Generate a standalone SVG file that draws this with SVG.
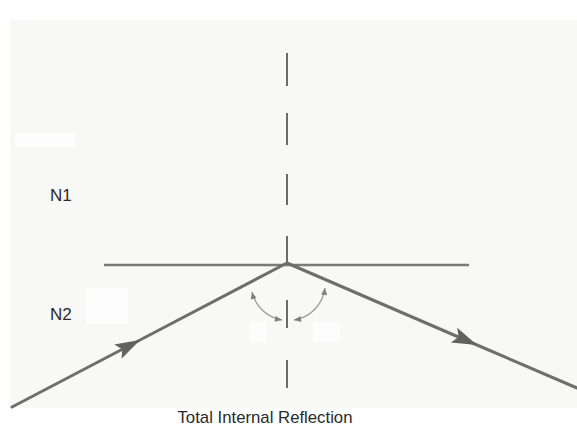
<svg xmlns="http://www.w3.org/2000/svg" width="577" height="437" viewBox="0 0 577 437">
<style>
.ray{fill:none;stroke:#6e6e6e;stroke-width:3;stroke-linecap:round}
.surf{stroke:#7a7a7a;stroke-width:2.5}
.norm{stroke:#6a6a6a;stroke-width:2}
.arc{fill:none;stroke:#9a9a9a;stroke-width:1.3}
.lbl{font-family:"Liberation Sans",Arial,sans-serif;font-size:17px;fill:#2a2a2a}
.patch{fill:#fdfdfd}
</style>
<defs>
<marker id="rayArrow" markerUnits="userSpaceOnUse" markerWidth="30" markerHeight="20" viewBox="-26 -10 30 20" refX="0" refY="0" orient="auto">
<path d="M0,0 L-25,-8 L-20,0 L-25,8 z" fill="#626262"/>
</marker>
<marker id="arcArrow" markerUnits="userSpaceOnUse" markerWidth="10" markerHeight="10" viewBox="-8 -5 10 10" refX="0" refY="0" orient="auto-start-reverse">
<path d="M0,0 L-7,-3 L-7,3 z" fill="#808080"/>
</marker>
</defs>
<rect x="0" y="0" width="577" height="437" fill="#ffffff"/>
<rect x="10" y="20" width="567" height="388" fill="#f8f8f6"/>
<rect class="patch" x="15" y="133" width="60" height="14"/>
<rect class="patch" x="86" y="288" width="42" height="36"/>
<rect class="patch" x="250" y="322" width="17" height="20"/>
<rect class="patch" x="313" y="322" width="27" height="20"/>
<g id="connectors">
<g id="normal">
<line class="norm" x1="287" y1="53" x2="287" y2="86"/>
<line class="norm" x1="287" y1="113" x2="287" y2="145"/>
<line class="norm" x1="287" y1="174" x2="287" y2="205"/>
<line class="norm" x1="287" y1="236" x2="287" y2="263"/>
<line class="norm" x1="287" y1="300" x2="287" y2="328"/>
<line class="norm" x1="287" y1="360" x2="287" y2="388"/>
</g>
<line id="interface" class="surf" x1="104" y1="265" x2="469" y2="265"/>
<polyline id="incident" class="ray" points="12,407 140,340 287,263" marker-mid="url(#rayArrow)"/>
<polyline id="reflected" class="ray" points="287,263 477,345 577,388" marker-mid="url(#rayArrow)"/>
<path id="angle-i" class="arc" d="M252,292 A37,37 0 0 0 282,320" marker-start="url(#arcArrow)" marker-end="url(#arcArrow)"/>
<path id="angle-r" class="arc" d="M325,288 A37,37 0 0 1 294,320" marker-start="url(#arcArrow)" marker-end="url(#arcArrow)"/>
</g>
<g id="n1"><text class="lbl" x="50" y="201">N1</text></g>
<g id="n2"><text class="lbl" x="50" y="320">N2</text></g>
<g id="caption"><text class="lbl" x="265" y="423" text-anchor="middle" textLength="175" lengthAdjust="spacingAndGlyphs">Total Internal Reflection</text></g>
</svg>
